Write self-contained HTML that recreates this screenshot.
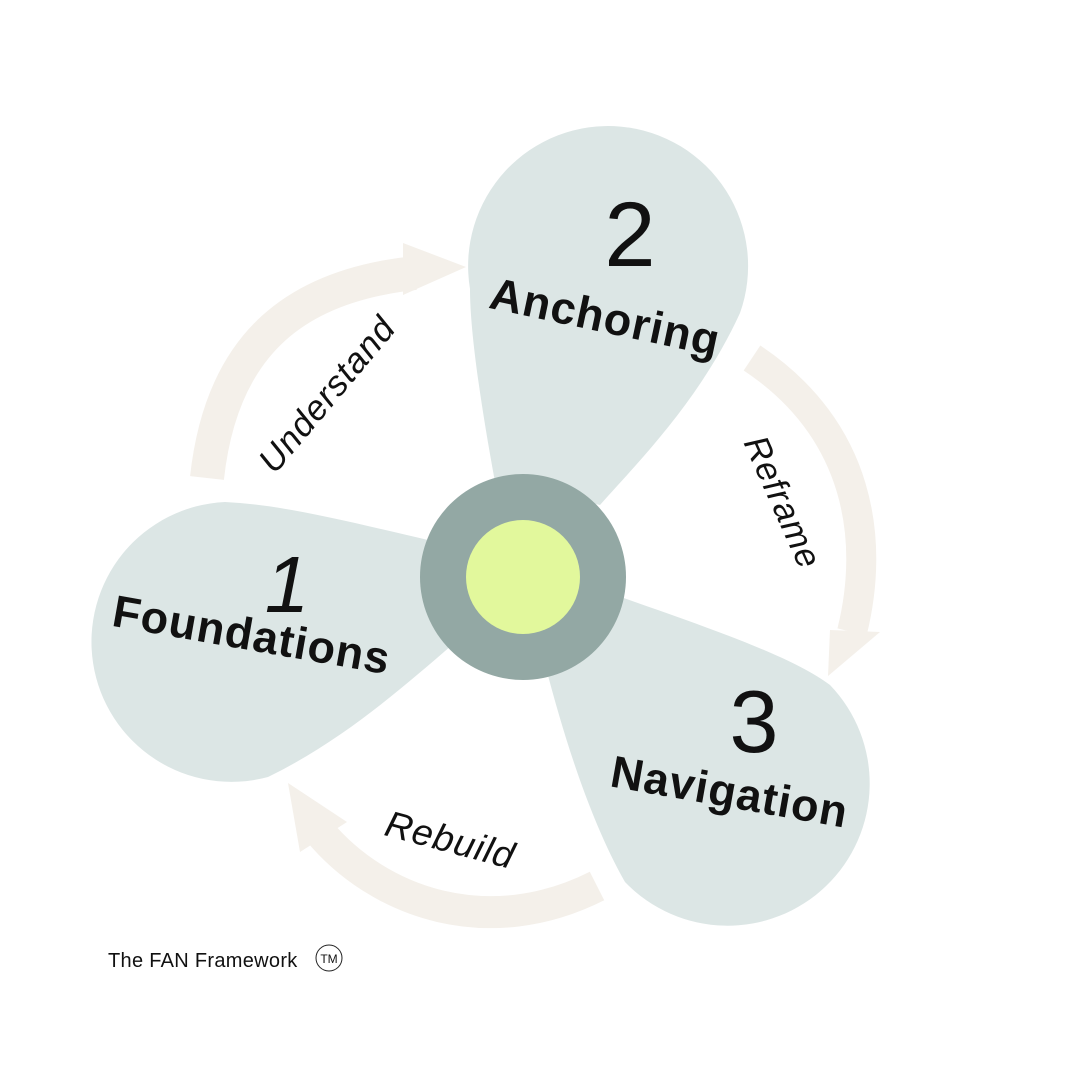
<!DOCTYPE html>
<html><head><meta charset="utf-8"><style>
html,body{margin:0;padding:0;background:#fff}
svg{display:block}
text{font-family:"Liberation Sans","DejaVu Sans",sans-serif}
</style></head><body>
<svg width="1080" height="1080" viewBox="0 0 1080 1080" xmlns="http://www.w3.org/2000/svg">
<rect width="1080" height="1080" fill="#fff"/>
<g fill="none" stroke="#f4f0ea" stroke-linecap="butt">
<path d="M207,478 C222,340 300,285 415,273" stroke-width="34"/>
<path d="M752,358 C860,430 875,540 852,632" stroke-width="30"/>
<path d="M597,886 C490,940 380,905 318,830" stroke-width="32"/>
</g>
<g fill="#f4f0ea">
<polygon points="403,243 466,267 403,295"/>
<polygon points="828,676 880,632 830,630"/>
<polygon points="288,783 300,852 347,822"/>
</g>
<g fill="#dce6e5">
<path d="M495,482 C480,400 470,330 470,289 A140,140 0 1 1 740,313 C700,400 640,460 600,505 Z"/>
<path d="M428,540 C350,522 285,505 225,502 A140,140 0 1 0 268,777 C340,742 400,690 452,645 Z"/>
<path d="M618,596 C700,625 790,655 830,685 A139,139 0 1 1 625,882 C590,820 565,740 546,668 Z"/>
</g>
<circle cx="523" cy="577" r="103" fill="#93a8a4"/>
<circle cx="523" cy="577" r="57" fill="#e2f89c"/>
<g fill="#111">
<text x="630" y="266" font-size="92" font-weight="300" text-anchor="middle">2</text>
<text x="287" y="612" font-size="80" font-style="italic" font-weight="300" text-anchor="middle">1</text>
<text x="754" y="752" font-size="88" font-weight="300" text-anchor="middle">3</text>
<text transform="translate(602,332) rotate(12)" font-size="45" font-weight="bold" letter-spacing="1" text-anchor="middle">Anchoring</text>
<text transform="translate(249,650) rotate(10)" font-size="45" font-weight="bold" letter-spacing="1" text-anchor="middle">Foundations</text>
<text transform="translate(727,807) rotate(10)" font-size="45" font-weight="bold" letter-spacing="1" text-anchor="middle">Navigation</text>
<text transform="translate(336,402) rotate(-50)" font-size="35" font-style="italic" font-weight="300" letter-spacing="1" text-anchor="middle">Understand</text>
<text transform="translate(772,507) rotate(66)" font-size="35" font-style="italic" font-weight="300" letter-spacing="1" text-anchor="middle">Reframe</text>
<text transform="translate(447,852) rotate(15)" font-size="37" font-style="italic" font-weight="300" letter-spacing="1" text-anchor="middle">Rebuild</text>
<text x="108" y="967" font-size="20" letter-spacing="0.3">The FAN Framework</text>
<circle cx="329" cy="958" r="13" fill="none" stroke="#222" stroke-width="1"/>
<text x="329" y="963" font-size="12" text-anchor="middle">TM</text>
</g>
</svg>
</body></html>
